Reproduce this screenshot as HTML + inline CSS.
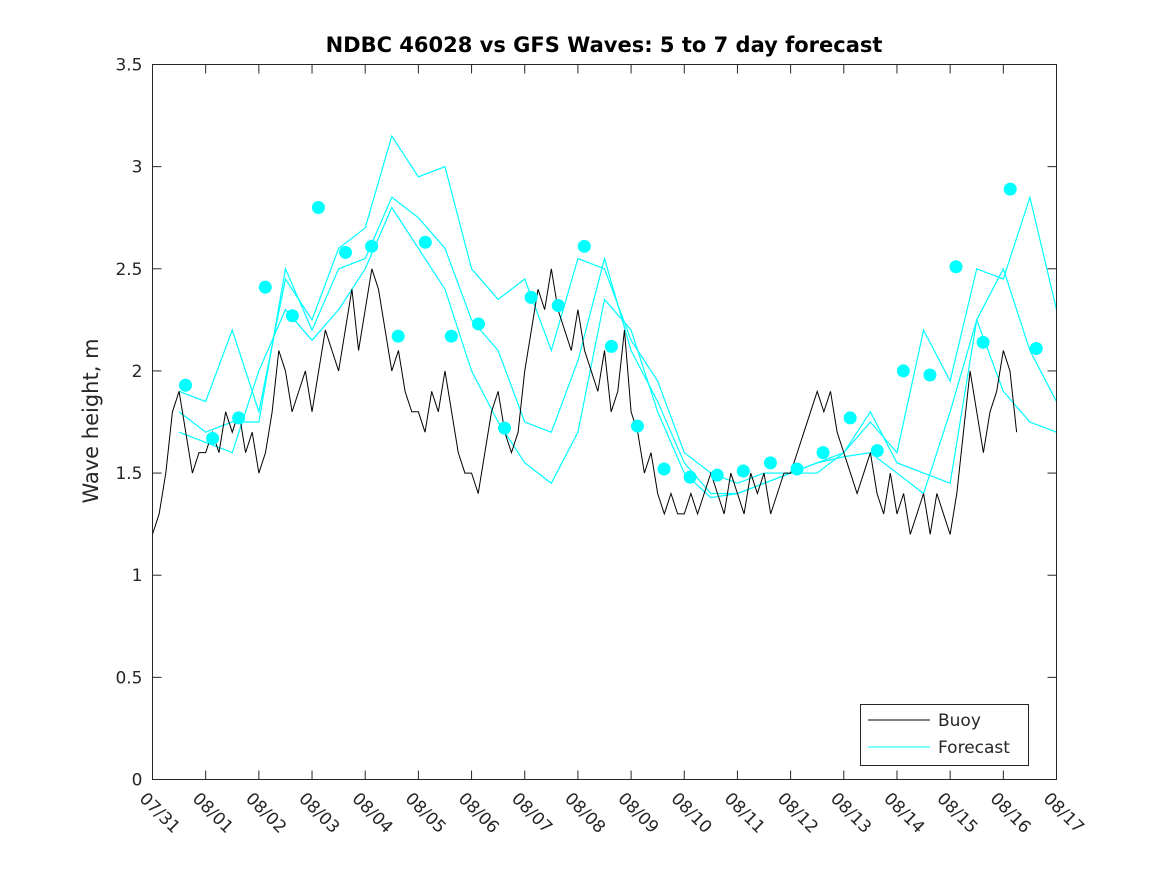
<!DOCTYPE html>
<html><head><meta charset="utf-8"><style>
body{margin:0;background:#fff;}
svg{display:block;font-family:"Liberation Sans","DejaVu Sans",sans-serif;}
</style></head><body>
<svg id="chart" width="1167" height="875">
<rect x="0" y="0" width="1167" height="875" fill="#fff"/>
<text x="604" y="52" text-anchor="middle" font-size="21" font-weight="bold" font-family="DejaVu Sans, sans-serif">NDBC 46028 vs GFS Waves: 5 to 7 day forecast</text>
<text transform="translate(98,421) rotate(-90)" text-anchor="middle" font-size="21" font-family="DejaVu Sans, sans-serif" fill="#262626">Wave height, m</text>
<g id="grid"></g>
<g id="series"></g>
<rect x="152.5" y="64.5" width="904" height="715" fill="none" stroke="#262626" stroke-width="1"/>
<g>
<rect x="860.5" y="704.5" width="168" height="61" fill="#fff" stroke="#262626"/>
<line x1="868" y1="720" x2="930" y2="720" stroke="#000"/>
<text x="938" y="726" font-size="17" font-family="DejaVu Sans, sans-serif" fill="#262626">Buoy</text>
<line x1="868" y1="747" x2="930" y2="747" stroke="#0ff"/>
<text x="938" y="753" font-size="17" font-family="DejaVu Sans, sans-serif" fill="#262626">Forecast</text>
</g>
</svg>
<script>
const dateLabels=["07/31","08/01","08/02","08/03","08/04","08/05","08/06","08/07","08/08","08/09","08/10","08/11","08/12","08/13","08/14","08/15","08/16","08/17"];
const yTicks=[0,0.5,1,1.5,2,2.5,3,3.5];
// buoy, every 0.125 day starting at day 0
const buoy=[1.2,1.3,1.5,1.8,1.9,1.7,1.5,1.6,
1.6,1.7,1.6,1.8,1.7,1.8,1.6,1.7,
1.5,1.6,1.8,2.1,2.0,1.8,1.9,2.0,
1.8,2.0,2.2,2.1,2.0,2.2,2.4,2.1,
2.3,2.5,2.4,2.2,2.0,2.1,1.9,1.8,
1.8,1.7,1.9,1.8,2.0,1.8,1.6,1.5,
1.5,1.4,1.6,1.8,1.9,1.7,1.6,1.7,
2.0,2.2,2.4,2.3,2.5,2.3,2.2,2.1,
2.3,2.1,2.0,1.9,2.1,1.8,1.9,2.2,
1.8,1.7,1.5,1.6,1.4,1.3,1.4,1.3,
1.3,1.4,1.3,1.4,1.5,1.4,1.3,1.5,
1.4,1.3,1.5,1.4,1.5,1.3,1.4,1.5,
1.5,1.6,1.7,1.8,1.9,1.8,1.9,1.7,
1.6,1.5,1.4,1.5,1.6,1.4,1.3,1.5,
1.3,1.4,1.2,1.3,1.4,1.2,1.4,1.3,
1.2,1.4,1.7,2.0,1.8,1.6,1.8,1.9,
2.1,2.0,1.7];
const markDays=[0.62,1.13,1.62,2.12,2.63,3.12,3.63,4.12,4.62,5.13,5.62,6.13,6.62,7.12,7.63,8.12,8.63,9.12,9.62,10.11,10.62,11.11,11.62,12.12,12.61,13.12,13.63,14.12,14.62,15.11,15.62,16.13,16.62];
const markVals=[1.93,1.67,1.77,2.41,2.27,2.8,2.58,2.61,2.17,2.63,2.17,2.23,1.72,2.36,2.32,2.61,2.12,1.73,1.52,1.48,1.49,1.51,1.55,1.52,1.6,1.77,1.61,2.0,1.98,2.51,2.14,2.89,2.11];
// forecast traces, every 0.5 day starting at day 0.5
const fcA=[1.9,1.85,2.2,1.8,2.45,2.25,2.6,2.7,3.15,2.95,3.0,2.5,2.35,2.45,2.1,2.55,2.5,2.15,1.95,1.6,1.5,1.45,1.5,1.5,1.55,1.6,1.75,1.6,2.2,1.95,2.5,2.45,2.85,2.3];
const fcB=[1.8,1.7,1.75,1.75,2.5,2.2,2.5,2.55,2.85,2.75,2.6,2.25,2.1,1.75,1.7,2.05,2.55,2.1,1.85,1.55,1.4,1.4,1.45,1.5,1.5,1.6,1.8,1.55,1.5,1.45,2.25,2.5,2.1,1.85];
const fcC=[1.7,1.65,1.6,2.0,2.3,2.15,2.3,2.5,2.8,2.6,2.4,2.0,1.75,1.55,1.45,1.7,2.35,2.2,1.8,1.5,1.38,1.4,1.45,1.5,1.55,1.58,1.6,1.5,1.4,1.8,2.25,1.9,1.75,1.7];
const X0=152.5,X1=1056.5,Y0=779.5,Y1=64.5;
const xs=d=>X0+(X1-X0)*d/17, ys=v=>Y0-(Y0-Y1)*v/3.5;
const NS="http://www.w3.org/2000/svg";
const grid=document.getElementById('grid'), ser=document.getElementById('series');
function mk(t,a,p){const e=document.createElementNS(NS,t);for(const k in a)e.setAttribute(k,a[k]);p.appendChild(e);return e;}
yTicks.forEach(v=>{
  const y=ys(v);
  const t=mk('line',{x1:X0,y1:y,x2:X0+9,y2:y,stroke:'#262626'},grid);
  
  
  mk('line',{x1:X1-9,y1:y,x2:X1,y2:y,stroke:'#262626'},grid);
  const l=mk('text',{x:X0-10,y:y+6,'text-anchor':'end','font-size':17,'font-family':'DejaVu Sans, sans-serif',fill:'#262626'},grid);
  l.textContent=String(v);
  
  
});
dateLabels.forEach((s,i)=>{
  const x=xs(i);
  const t=mk('line',{x1:x,y1:Y0,x2:x,y2:Y0-9,stroke:'#262626'},grid);
  
  
  mk('line',{x1:x,y1:Y1,x2:x,y2:Y1+9,stroke:'#262626'},grid);
  const l=mk('text',{x:x-14,y:Y0+20,'font-size':17,'font-family':'DejaVu Sans, sans-serif',fill:'#262626',transform:`rotate(45 ${x-14} ${Y0+20})`},grid);
  l.textContent=s;
  
  
});
[fcA,fcB,fcC].forEach((arr,k)=>{
  const pts=arr.map((v,i)=>xs(0.5+i*0.5)+','+ys(v)).join(' ');
  const p=mk('polyline',{points:pts,fill:'none',stroke:'#00ffff','stroke-width':1.2},ser);
  
  
});
const bp=mk('polyline',{points:buoy.map((v,i)=>xs(i*0.125)+','+ys(v)).join(' '),fill:'none',stroke:'#000','stroke-width':1},ser);


markDays.forEach((d,i)=>{
  const c=mk('circle',{cx:xs(d),cy:ys(markVals[i]),r:6.5,fill:'#00ffff'},ser);
  
  
});
</script>
</body></html>
